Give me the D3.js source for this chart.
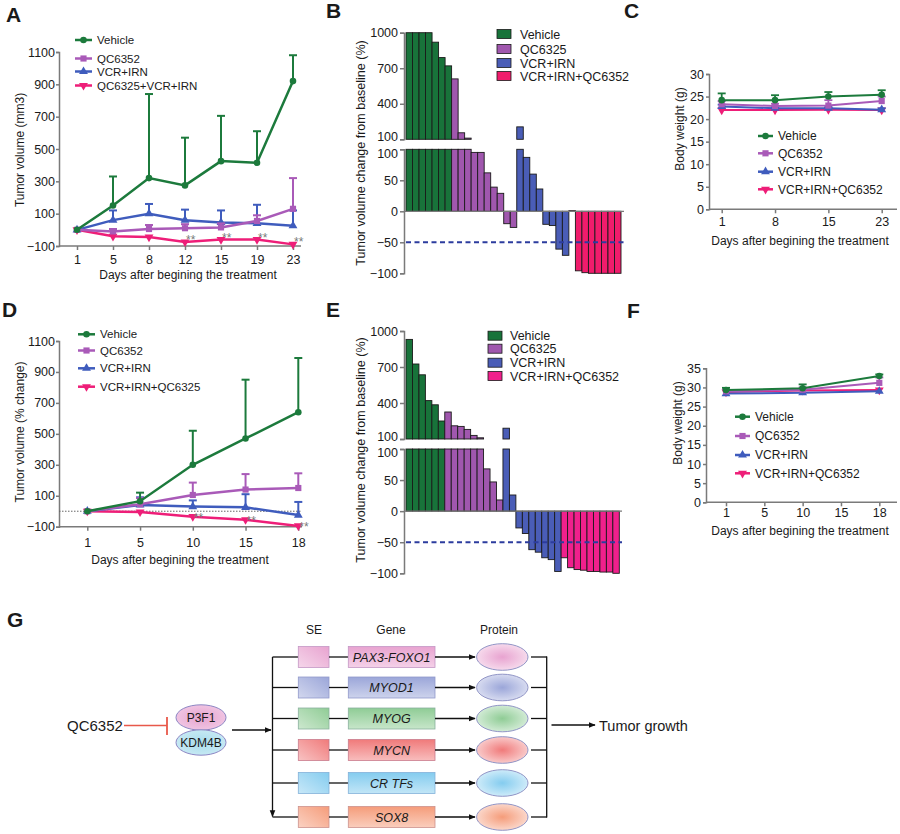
<!DOCTYPE html>
<html><head><meta charset="utf-8">
<script src="https://cdn.jsdelivr.net/npm/d3@7"></script>
<style>
body{margin:0;background:#fff}
svg{display:block}
text{font-family:Arial,"Liberation Sans",Helvetica,sans-serif;fill:#1a1a1a}
</style>
</head><body><svg id="fig" width="900" height="834"></svg>
<script>
// ---------------- DATA ----------------
// Panel A (tumor volume, mm3)
const daysA = [1, 5, 8, 12, 15, 19, 23];
const ticksA = [-100, 100, 300, 500, 700, 900, 1100];
const vehicleA = [0, 150, 320, 275, 425, 415, 920];
const vehicleAUpper = [0, 330, 840, 570, 705, 610, 1080];
const qcA = [0, -10, 5, 10, 15, 55, 130];
const qcAUpper = [0, 5, 30, 35, 40, 90, 320];
const vcrA = [0, 60, 100, 60, 45, 40, 25];
const vcrAUpper = [0, 120, 160, 125, 120, 155, 120];
const comboA = [0, -40, -45, -75, -60, -60, -90];
const starsA = [0, 0, 0, 1, 1, 1, 1];
const legendA = ["Vehicle", "QC6352", "VCR+IRN", "QC6325+VCR+IRN"];

// Panel B (waterfall, % change)
const legendB = ["Vehicle", "QC6325", "VCR+IRN", "VCR+IRN+QC6352"];
const vehicleB = [1000, 1000, 1000, 1000, 920, 790, 720];
const qcB = [610, 155, 110, 95, 95, 62, 39, 29, -20, -26];
const vcrB = [205, 87, 60, 36, -21, -23, -61, -71];
const comboB = [1, -96, -99, -100, -100, -100, -100, -100];
const ticksHi = [100, 400, 700, 1000];
const ticksLo = [-100, -50, 0, 50, 100];

// Panel C (body weight, g)
const daysC = [1, 8, 15, 23];
const ticksC = [0, 5, 10, 15, 20, 25, 30];
const vehicleC = [24.2, 24.2, 25.0, 25.4];
const vehicleCUpper = [25.7, 25.3, 26.0, 26.4];
const qcC = [23.3, 22.9, 23.0, 24.0];
const qcCUpper = [24.0, 23.4, 24.2, 25.0];
const vcrC = [22.8, 22.4, 22.4, 22.1];
const vcrCUpper = [23.2, 22.7, 22.7, 22.4];
const comboC = [22.0, 22.0, 22.1, 22.0];
const legendC = ["Vehicle", "QC6352", "VCR+IRN", "VCR+IRN+QC6352"];

// Panel D (tumor volume, % change)
const daysD = [1, 5, 10, 15, 18];
const ticksD = [-100, 100, 300, 500, 700, 900, 1100];
const vehicleD = [0, 65, 300, 470, 640];
const vehicleDUpper = [0, 120, 520, 850, 990];
const qcD = [0, 45, 105, 140, 150];
const qcDUpper = [0, 85, 185, 240, 245];
const vcrD = [0, 40, 30, 25, -25];
const vcrDUpper = [0, 90, 70, 110, 60];
const comboD = [0, -5, -35, -55, -95];
const starsD = [0, 0, 1, 1, 1];
const legendD = ["Vehicle", "QC6352", "VCR+IRN", "VCR+IRN+QC6325"];

// Panel E (waterfall, % change)
const legendE = ["Vehicle", "QC6325", "VCR+IRN", "VCR+IRN+QC6352"];
const vehicleE = [930, 725, 635, 420, 385, 250];
const qcE = [325, 210, 205, 180, 130, 110, 68, 47, 18];
const vcrE = [190, 26, -27, -36, -62, -66, -75, -78, -97];
const comboE = [-75, -91, -94, -95, -97, -97, -98, -98, -100];

// Panel F (body weight, g)
const tickDaysF = [1, 5, 10, 15, 18];
const daysF = [1, 10, 18];
const ticksF = [0, 5, 10, 15, 20, 25, 30, 35];
const vehicleF = [29.3, 29.8, 33.0];
const vehicleFUpper = [29.9, 30.8, 33.4];
const qcF = [29.0, 29.4, 31.2];
const qcFUpper = [29.5, 30.0, 32.6];
const vcrF = [28.4, 28.6, 29.0];
const comboF = [28.8, 29.2, 29.3];
const legendF = ["Vehicle", "QC6352", "VCR+IRN", "VCR+IRN+QC6352"];

// Panel G (diagram)
const geneNames = ["PAX3-FOXO1", "MYOD1", "MYOG", "MYCN", "CR TFs", "SOX8"];
const geneColors = ["#e8a3d0", "#9ba6d9", "#8fcc95", "#f07a7a", "#84ccef", "#f59c7a"];

// ---------------- STYLE ----------------
const GREEN = "#1c7a3c", PURPLE = "#a95ab8", BLUE = "#3f5cbd", PINK = "#ee1e78";
const BGREEN = "#18733a", BPURPLE = "#a057ae", BBLUE = "#4a5db7", BPINK = "#f01c6c";
const AX = "#7a7a7a";
const svg = d3.select("#fig");
const defs = svg.append("defs");
defs.append("marker").attr("id", "ah").attr("viewBox", "0 0 10 10").attr("refX", 9).attr("refY", 5)
  .attr("markerWidth", 7).attr("markerHeight", 7).attr("markerUnits", "userSpaceOnUse").attr("orient", "auto")
  .append("path").attr("d", "M0,1 L10,5 L0,9 Z").attr("fill", "#111");

const symTypes = [d3.symbolCircle, d3.symbolSquare, d3.symbolTriangle, d3.symbolTriangle];
const symRot = [0, 0, 0, 180];
const symSize = [34, 38, 34, 34];

function styleAxis(a, fs) {
  a.selectAll("path.domain").attr("stroke", AX).attr("stroke-width", 1.5);
  a.selectAll(".tick line").attr("stroke", AX).attr("stroke-width", 1.5);
  a.selectAll(".tick text").attr("font-size", fs).attr("fill", "#1a1a1a")
    .attr("font-family", "Arial, 'Liberation Sans', sans-serif");
}

function panelLabel(t, x, y) {
  svg.append("text").attr("x", x).attr("y", y).attr("font-size", 21).attr("font-weight", "bold").text(t);
}

function linePanel(cfg) {
  const g = svg.append("g");
  const x = d3.scalePoint().domain(cfg.tickDays).range(cfg.xr);
  const y = d3.scaleLinear().domain(cfg.yd).range(cfg.yr);
  const ya = g.append("g").attr("transform", `translate(${cfg.ax},0)`)
    .call(d3.axisLeft(y).tickValues(cfg.yTicks).tickSize(cfg.yts).tickPadding(cfg.ytp).tickFormat(d3.format("d")));
  styleAxis(ya, 12.5);
  const xa = g.append("g").attr("transform", `translate(0,${cfg.yr[0]})`)
    .call(d3.axisBottom(x).tickSize(4).tickPadding(cfg.xtp));
  xa.select("path.domain").remove();
  styleAxis(xa, 12.5);
  g.append("line").attr("x1", cfg.ax).attr("x2", cfg.xEnd).attr("y1", cfg.yr[0]).attr("y2", cfg.yr[0])
    .attr("stroke", AX).attr("stroke-width", 1.5);
  if (cfg.zeroDotted) {
    g.append("line").attr("x1", cfg.ax).attr("x2", cfg.xEnd).attr("y1", y(0)).attr("y2", y(0))
      .attr("stroke", "#666").attr("stroke-width", 1).attr("stroke-dasharray", "1.5,1.5");
  }
  // titles
  g.append("text").attr("x", cfg.xt[0]).attr("y", cfg.xt[1]).attr("text-anchor", "middle")
    .attr("font-size", 12).text("Days after begining the treatment");
  g.append("text").attr("transform", `translate(${cfg.yt[0]},${cfg.yt[1]}) rotate(-90)`)
    .attr("text-anchor", "middle").attr("font-size", 12).text(cfg.ytitle);
  const line = d3.line().x(d => x(d.d)).y(d => y(d.v));
  // draw series (reverse so vehicle is on top)
  cfg.series.slice().reverse().forEach(s => {
    const pts = s.vals.map((v, i) => ({ d: s.days[i], v: v, up: s.upper ? s.upper[i] : v, star: s.stars ? s.stars[i] : 0 }));
    pts.forEach(p => {
      if (p.up > p.v) {
        g.append("line").attr("x1", x(p.d)).attr("x2", x(p.d)).attr("y1", y(p.v)).attr("y2", y(p.up))
          .attr("stroke", s.color).attr("stroke-width", cfg.ebw || 2);
        g.append("line").attr("x1", x(p.d) - 4).attr("x2", x(p.d) + 4).attr("y1", y(p.up)).attr("y2", y(p.up))
          .attr("stroke", s.color).attr("stroke-width", cfg.ebw || 2);
      }
    });
    g.append("path").datum(pts).attr("d", line).attr("fill", "none").attr("stroke", s.color)
      .attr("stroke-width", cfg.lw || 2.5);
    g.selectAll(null).data(pts).join("path")
      .attr("transform", p => `translate(${x(p.d)},${y(p.v)}) rotate(${symRot[s.k]})`)
      .attr("d", d3.symbol().type(symTypes[s.k]).size(symSize[s.k]))
      .attr("fill", s.color);
    pts.filter(p => p.star).forEach(p => {
      g.append("text").attr("x", x(p.d) + 1).attr("y", y(p.v) + cfg.starDy).attr("font-size", 12)
        .style("fill", "#7a7a7a").text("**");
    });
  });
  // legend
  const L = cfg.legend;
  cfg.series.forEach((s, i) => {
    const yy = L.ys[i];
    g.append("line").attr("x1", L.x0).attr("x2", L.x1).attr("y1", yy).attr("y2", yy)
      .attr("stroke", s.color).attr("stroke-width", 2.5);
    g.append("path").attr("transform", `translate(${(L.x0 + L.x1) / 2},${yy}) rotate(${symRot[s.k]})`)
      .attr("d", d3.symbol().type(symTypes[s.k]).size(symSize[s.k])).attr("fill", s.color);
    g.append("text").attr("x", L.tx).attr("y", yy).attr("dy", "0.36em").attr("font-size", L.fs).text(s.name);
  });
}

function barPanel(cfg) {
  const g = svg.append("g");
  const groups = cfg.groups;
  const data = [];
  groups.forEach(gr => gr.vals.forEach(v => data.push({ v: v, c: gr.color })));
  const x = d3.scaleBand().domain(d3.range(data.length)).range(cfg.xr).padding(0);
  const yLo = d3.scaleLinear().domain([-100, 100]).range(cfg.loR);
  const yHi = d3.scaleLinear().domain([100, 1000]).range(cfg.hiR);
  // lower segment bars
  g.selectAll(null).data(data).join("rect")
    .attr("x", (d, i) => x(i)).attr("width", x.bandwidth())
    .attr("y", d => d.v >= 0 ? yLo(Math.min(d.v, 100)) : yLo(0))
    .attr("height", d => d.v >= 0 ? yLo(0) - yLo(Math.min(d.v, 100)) : yLo(d.v) - yLo(0))
    .attr("fill", d => d.c).attr("stroke", "#1a1a1a").attr("stroke-width", 0.9);
  // upper segment bars
  g.selectAll(null).data(data.map((d, i) => ({ ...d, i })).filter(d => d.v > 100)).join("rect")
    .attr("x", d => x(d.i)).attr("width", x.bandwidth())
    .attr("y", d => yHi(Math.min(d.v, 1000)))
    .attr("height", d => yHi(100) - yHi(Math.min(d.v, 1000)))
    .attr("fill", d => d.c).attr("stroke", "#1a1a1a").attr("stroke-width", 0.9);
  // axes
  const a1 = g.append("g").attr("transform", `translate(${cfg.ax},0)`)
    .call(d3.axisLeft(yHi).tickValues(ticksHi).tickSize(4).tickPadding(2).tickFormat(d3.format("d")));
  const a2 = g.append("g").attr("transform", `translate(${cfg.ax},0)`)
    .call(d3.axisLeft(yLo).tickValues(ticksLo).tickSize(4).tickPadding(2).tickFormat(d3.format("d")));
  styleAxis(a1, 12.5); styleAxis(a2, 12.5);
  // keep the two "100" labels at the break apart
  a1.selectAll(".tick text").filter(d => d === 100).attr("dy", "0.1em");
  a2.selectAll(".tick text").filter(d => d === 100).attr("dy", "0.62em");
  g.append("line").attr("x1", cfg.ax).attr("x2", cfg.xEnd).attr("y1", yLo(0)).attr("y2", yLo(0))
    .attr("stroke", AX).attr("stroke-width", 1.2);
  g.append("line").attr("x1", cfg.xr[0]).attr("x2", cfg.xEnd).attr("y1", yLo(-50)).attr("y2", yLo(-50))
    .attr("stroke", "#2c3c9e").attr("stroke-width", 2).attr("stroke-dasharray", "5,3.5");
  g.append("text").attr("transform", `translate(${cfg.yt[0]},${cfg.yt[1]}) rotate(-90)`)
    .attr("text-anchor", "middle").attr("font-size", 12.5).text("Tumor volume change from baseline (%)");
  // legend
  const L = cfg.legend;
  groups.forEach((gr, i) => {
    g.append("rect").attr("x", L.x).attr("y", L.ys[i] - 4.5).attr("width", 14).attr("height", 9)
      .attr("fill", gr.color).attr("stroke", "#1a1a1a").attr("stroke-width", 0.8);
    g.append("text").attr("x", L.tx).attr("y", L.ys[i]).attr("dy", "0.36em").attr("font-size", 12.5).text(gr.name);
  });
}

// ---------------- PANELS ----------------
panelLabel("A", 6, 22);
linePanel({
  tickDays: daysA, xr: [77, 293], yd: [-100, 1100], yr: [246, 52], ax: 59, xEnd: 301, yTicks: ticksA,
  yts: 3, ytp: 1, xtp: 5,
  xt: [188, 279], yt: [24, 150], ytitle: "Tumor volume (mm3)", starDy: 2,
  legend: { x0: 75, x1: 92, tx: 97, ys: [40, 58.5, 71.5, 85.5], fs: 11.5 },
  series: [
    { name: legendA[0], color: GREEN, k: 0, days: daysA, vals: vehicleA, upper: vehicleAUpper },
    { name: legendA[1], color: PURPLE, k: 1, days: daysA, vals: qcA, upper: qcAUpper },
    { name: legendA[2], color: BLUE, k: 2, days: daysA, vals: vcrA, upper: vcrAUpper },
    { name: legendA[3], color: PINK, k: 3, days: daysA, vals: comboA, stars: starsA }
  ]
});

panelLabel("B", 326, 18);
barPanel({
  xr: [406, 621], ax: 404, xEnd: 624, loR: [273.3, 149.3], hiR: [139.3, 32.7], yt: [365, 153],
  legend: { x: 497, tx: 520, ys: [34, 49, 63, 76] },
  groups: [
    { name: legendB[0], color: BGREEN, vals: vehicleB },
    { name: legendB[1], color: BPURPLE, vals: qcB },
    { name: legendB[2], color: BBLUE, vals: vcrB },
    { name: legendB[3], color: BPINK, vals: comboB }
  ]
});

panelLabel("C", 624, 18);
linePanel({
  tickDays: daysC, xr: [721.7, 881.7], yd: [0, 30], yr: [209.3, 74], ax: 709, xEnd: 897, yTicks: ticksC,
  yts: 3, ytp: 2, xtp: 4,
  xt: [800, 245], yt: [684, 129], ytitle: "Body weight (g)", lw: 2, ebw: 1.8, starDy: 0,
  legend: { x0: 758, x1: 773, tx: 778, ys: [136, 153.3, 171.7, 189.3], fs: 12 },
  series: [
    { name: legendC[0], color: GREEN, k: 0, days: daysC, vals: vehicleC, upper: vehicleCUpper },
    { name: legendC[1], color: PURPLE, k: 1, days: daysC, vals: qcC, upper: qcCUpper },
    { name: legendC[2], color: BLUE, k: 2, days: daysC, vals: vcrC, upper: vcrCUpper },
    { name: legendC[3], color: PINK, k: 3, days: daysC, vals: comboC }
  ]
});

panelLabel("D", 2, 317);
linePanel({
  tickDays: daysD, xr: [87.3, 298.3], yd: [-100, 1100], yr: [526.7, 341], ax: 59, xEnd: 302, yTicks: ticksD,
  yts: 3, ytp: 1, xtp: 7,
  xt: [180, 564], yt: [24, 432], ytitle: "Tumor volume (% change)", zeroDotted: true, starDy: 5,
  legend: { x0: 78, x1: 95, tx: 100, ys: [334.3, 350.5, 368.3, 386.7], fs: 11.5 },
  series: [
    { name: legendD[0], color: GREEN, k: 0, days: daysD, vals: vehicleD, upper: vehicleDUpper },
    { name: legendD[1], color: PURPLE, k: 1, days: daysD, vals: qcD, upper: qcDUpper },
    { name: legendD[2], color: BLUE, k: 2, days: daysD, vals: vcrD, upper: vcrDUpper },
    { name: legendD[3], color: PINK, k: 3, days: daysD, vals: comboD, stars: starsD }
  ]
});

panelLabel("E", 326, 317);
barPanel({
  xr: [406, 619.3], ax: 404, xEnd: 622, loR: [573.3, 449], hiR: [439, 331], yt: [365, 450],
  legend: { x: 488, tx: 510, ys: [335.7, 348.7, 362.7, 376] },
  groups: [
    { name: legendE[0], color: BGREEN, vals: vehicleE },
    { name: legendE[1], color: BPURPLE, vals: qcE },
    { name: legendE[2], color: BBLUE, vals: vcrE },
    { name: legendE[3], color: "#f0208c", vals: comboE }
  ]
});

panelLabel("F", 627, 318);
linePanel({
  tickDays: tickDaysF, xr: [726, 879.3], yd: [0, 35], yr: [502.3, 368.3], ax: 706, xEnd: 897, yTicks: ticksF,
  yts: 3, ytp: 2, xtp: 2,
  xt: [800, 535], yt: [682, 423], ytitle: "Body weight (g)", lw: 2, ebw: 1.8, starDy: 0,
  legend: { x0: 735, x1: 750, tx: 755, ys: [416.7, 436, 455, 473.3], fs: 12 },
  series: [
    { name: legendF[0], color: GREEN, k: 0, days: daysF, vals: vehicleF, upper: vehicleFUpper },
    { name: legendF[1], color: PURPLE, k: 1, days: daysF, vals: qcF, upper: qcFUpper },
    { name: legendF[2], color: BLUE, k: 2, days: daysF, vals: vcrF },
    { name: legendF[3], color: PINK, k: 3, days: daysF, vals: comboF }
  ]
});

// ---------------- PANEL G ----------------
panelLabel("G", 7, 627);
const G = svg.append("g");
const rowY = [657, 687.5, 718.5, 750, 783, 817];
const lighten = (c, t) => d3.interpolateRgb(c, "#ffffff")(t);
geneColors.forEach((c, i) => {
  const lg = defs.append("linearGradient").attr("id", "lg" + i).attr("x1", 0).attr("y1", 1).attr("x2", 1).attr("y2", 0);
  lg.append("stop").attr("offset", "0%").attr("stop-color", lighten(c, 0.55));
  lg.append("stop").attr("offset", "100%").attr("stop-color", c);
  const lg2 = defs.append("linearGradient").attr("id", "lv" + i).attr("x1", 0).attr("y1", 0).attr("x2", 0).attr("y2", 1);
  lg2.append("stop").attr("offset", "0%").attr("stop-color", c);
  lg2.append("stop").attr("offset", "100%").attr("stop-color", lighten(c, 0.5));
  const rg = defs.append("radialGradient").attr("id", "rg" + i);
  rg.append("stop").attr("offset", "0%").attr("stop-color", c);
  rg.append("stop").attr("offset", "100%").attr("stop-color", lighten(c, 0.6));
});
const pg1 = defs.append("radialGradient").attr("id", "p3f1");
pg1.append("stop").attr("offset", "0%").attr("stop-color", "#e6a3cf");
pg1.append("stop").attr("offset", "100%").attr("stop-color", "#f0c4e2");
const pg2 = defs.append("radialGradient").attr("id", "kdm");
pg2.append("stop").attr("offset", "0%").attr("stop-color", "#a9dcec");
pg2.append("stop").attr("offset", "100%").attr("stop-color", "#c6e9f3");

// headers
G.append("text").attr("x", 314).attr("y", 634).attr("text-anchor", "middle").attr("font-size", 12).text("SE");
G.append("text").attr("x", 391).attr("y", 634).attr("text-anchor", "middle").attr("font-size", 12).text("Gene");
G.append("text").attr("x", 499).attr("y", 634).attr("text-anchor", "middle").attr("font-size", 12).text("Protein");

// inhibitor
G.append("text").attr("x", 67).attr("y", 731).attr("font-size", 15).text("QC6352");
G.append("line").attr("x1", 124).attr("x2", 167).attr("y1", 725.5).attr("y2", 725.5).attr("stroke", "#e8584a").attr("stroke-width", 1.6);
G.append("line").attr("x1", 167).attr("x2", 167).attr("y1", 717).attr("y2", 735).attr("stroke", "#e8584a").attr("stroke-width", 1.8);
G.append("ellipse").attr("cx", 201).attr("cy", 717.5).attr("rx", 25).attr("ry", 12.7).attr("fill", "url(#p3f1)").attr("stroke", "#8c86c4").attr("stroke-width", 1);
G.append("ellipse").attr("cx", 201).attr("cy", 742.5).attr("rx", 25).attr("ry", 12.7).attr("fill", "url(#kdm)").attr("stroke", "#8c86c4").attr("stroke-width", 1);
G.append("text").attr("x", 201).attr("y", 722).attr("text-anchor", "middle").attr("font-size", 12).text("P3F1");
G.append("text").attr("x", 201).attr("y", 747).attr("text-anchor", "middle").attr("font-size", 12).text("KDM4B");
G.append("line").attr("x1", 232).attr("x2", 271).attr("y1", 730).attr("y2", 730).attr("stroke", "#111").attr("stroke-width", 1.3).attr("marker-end", "url(#ah)");
G.append("line").attr("x1", 272.5).attr("x2", 272.5).attr("y1", rowY[0]).attr("y2", rowY[5] - 0.5).attr("stroke", "#111").attr("stroke-width", 1.3).attr("marker-end", "url(#ah)");

geneNames.forEach((name, i) => {
  const y = rowY[i];
  const c = geneColors[i];
  const st = d3.interpolateRgb(c, "#8080b0")(0.35);
  G.append("line").attr("x1", 272.5).attr("x2", 298).attr("y1", y).attr("y2", y).attr("stroke", "#111").attr("stroke-width", 1.3);
  G.append("rect").attr("x", 298.3).attr("y", y - 10.5).attr("width", 30.7).attr("height", 21).attr("fill", `url(#lg${i})`).attr("stroke", st).attr("stroke-width", 0.8);
  G.append("line").attr("x1", 329).attr("x2", 348).attr("y1", y).attr("y2", y).attr("stroke", "#111").attr("stroke-width", 1.3);
  G.append("rect").attr("x", 348.3).attr("y", y - 10.5).attr("width", 86.7).attr("height", 21).attr("fill", `url(#lv${i})`).attr("stroke", st).attr("stroke-width", 0.8);
  G.append("text").attr("x", 391.6).attr("y", y + 4.5).attr("text-anchor", "middle").attr("font-size", 12.5).attr("font-style", "italic").text(name);
  G.append("line").attr("x1", 435).attr("x2", 475).attr("y1", y).attr("y2", y).attr("stroke", "#111").attr("stroke-width", 1.3).attr("marker-end", "url(#ah)");
  G.append("ellipse").attr("cx", 502.3).attr("cy", y).attr("rx", 25.7).attr("ry", 13.3).attr("fill", `url(#rg${i})`).attr("stroke", "#9195c6").attr("stroke-width", 1);
  G.append("line").attr("x1", 531).attr("x2", 547).attr("y1", y).attr("y2", y).attr("stroke", "#111").attr("stroke-width", 1.3);
});
G.append("line").attr("x1", 546.7).attr("x2", 546.7).attr("y1", rowY[0] - 0.6).attr("y2", rowY[5] + 0.6).attr("stroke", "#111").attr("stroke-width", 1.3);
G.append("line").attr("x1", 551.5).attr("x2", 595).attr("y1", 725).attr("y2", 725).attr("stroke", "#111").attr("stroke-width", 1.3).attr("marker-end", "url(#ah)");
G.append("text").attr("x", 599).attr("y", 730.5).attr("font-size", 14.5).text("Tumor growth");
</script></body></html>
